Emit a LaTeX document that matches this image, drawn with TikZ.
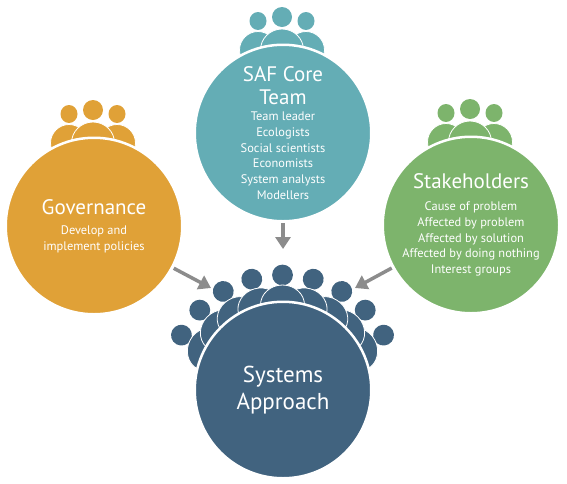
\documentclass[tikz,border=0pt]{standalone}
\usepackage{fontspec}
\setmainfont{PT Sans}
\usetikzlibrary{arrows.meta}
\definecolor{safTeal}{HTML}{64ADB5}
\definecolor{safAmber}{HTML}{E0A137}
\definecolor{safGreen}{HTML}{7DB46C}
\definecolor{safBlue}{HTML}{41637F}
\definecolor{safGrey}{HTML}{8C8C8C}
\newcommand{\hubfont}{\fontsize{21}{24}\selectfont}
\newcommand{\sysfont}{\fontsize{23}{27}\selectfont}
\newcommand{\listfont}{\fontsize{12.4}{15.7}\selectfont}
\tikzset{
  >={Triangle[length=12pt,width=15pt]},
  hub/.style={circle, draw=white, line width=2.5pt, minimum size=176.5pt, outer sep=0pt,
              inner sep=0pt, align=center, text=white, font=\listfont},
  person/.style={draw=white, line width=0.8pt},
  flow/.style={->, draw=safGrey, line width=3.5pt, shorten <=2pt},
}
\begin{document}
\begin{tikzpicture}[x=1pt,y=-1pt]
  \useasboundingbox (0,0) rectangle (567,483);
  % small groups behind the three upper circles
  \foreach \c/\x/\y in {safTeal/283/133, safAmber/94/226, safGreen/471/225}{
    \begin{scope}[shift={(\x,\y)}]
      \foreach \s in {-1,1}{
        \fill[\c] (\s*24-1,-112) circle[x radius=8.5pt,y radius=9pt];
        \fill[\c,person] (\s*24-1,-83) circle[x radius=18.5pt,y radius=18.5pt];
      }
      \fill[\c] (-1,-116) circle[radius=10pt];
      \fill[\c,person] (-1,-83) circle[x radius=21.5pt,y radius=21pt];
    \end{scope}
  }
  % crowd round the lower circle, outermost first
  \foreach \a in {61.5,-61.5,46,-46,31,-31,15.5,-15.5,0}{
    \begin{scope}[shift={(282.5,390)},rotate=\a]
      \fill[safBlue] (0,-115) circle[radius=10.4pt];
      \fill[safBlue,person] (0,-85) circle[x radius=22pt,y radius=20pt];
    \end{scope}
  }
  \node[hub,fill=safTeal] (saf) at (283,133)
    {\hubfont SAF Core\\[7pt]\hubfont Team\\[1pt]\listfont Team leader\\Ecologists\\Social scientists\\Economists\\System analysts\\Modellers};
  \node[hub,fill=safAmber] (gov) at (94,226)
    {\hubfont Governance\\[5pt]\listfont Develop and\\implement policies};
  \node[hub,fill=safGreen] (stake) at (471,225)
    {\hubfont Stakeholders\\[6pt]\listfont Cause of problem\\Affected by problem\\Affected by solution\\Affected by doing nothing\\Interest groups};
  \node[hub,fill=safBlue] (sys) at (283,390)
    {\sysfont Systems\\[5pt]\sysfont Approach};
  \coordinate (safTip) at (283,249);
  \coordinate (govTip) at (211,288);
  \coordinate (stakeTip) at (355,288);
  \draw[flow] (saf) -- (safTip);
  \draw[flow] (gov) -- (govTip);
  \draw[flow] (stake) -- (stakeTip);
\end{tikzpicture}
\end{document}
